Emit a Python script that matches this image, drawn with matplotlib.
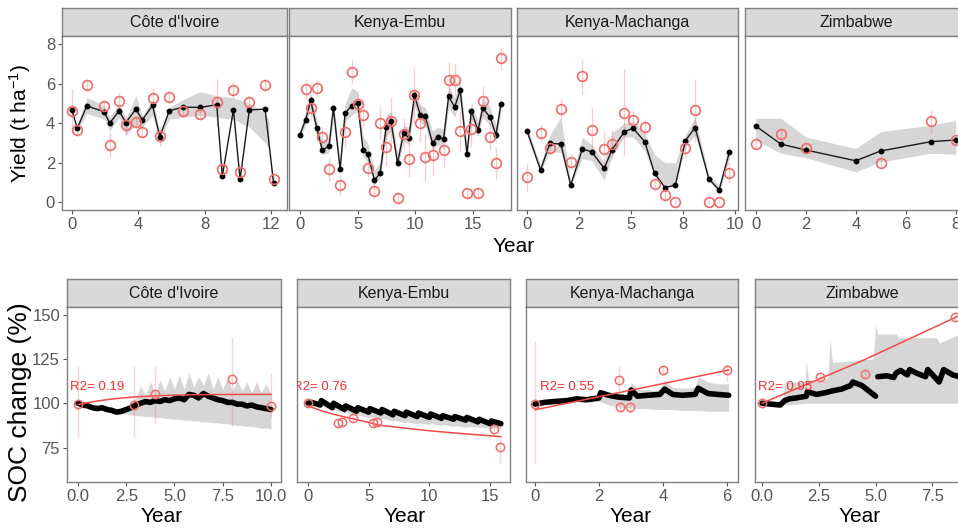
import numpy as np
import matplotlib
matplotlib.use('Agg')
import matplotlib.pyplot as plt

plt.rcParams['font.family'] = ['Liberation Sans', 'DejaVu Sans']
plt.rcParams['mathtext.default'] = 'regular'

W, H = 958, 529

# ---------------- 产量数据 (上排) ----------------
sites = ["Côte d'Ivoire", "Kenya-Embu", "Kenya-Machanga", "Zimbabwe"]

civ_x = [0, 0.32, 0.9, 1.94, 2.28, 2.84, 3.25, 3.85, 4.25, 4.86, 5.3, 5.87, 6.71, 7.72, 8.73, 9.07, 9.74, 10.14, 10.7, 11.65, 12.16]
civ_sim = [4.68, 3.74, 4.88, 4.58, 4.0, 4.63, 4.03, 4.71, 4.17, 4.9, 3.32, 4.63, 4.82, 4.8, 4.94, 1.31, 4.68, 1.16, 4.68, 4.71, 0.95]
civ_obs = [4.63, 3.63, 5.92, 4.88, 2.89, 5.14, 3.91, 4.05, 3.57, 5.28, 3.35, 5.33, 4.63, 4.46, 5.07, 1.65, 5.7, 1.5, 5.1, 5.92, 1.16]
civ_sd = [1.1, 0.3, 0.3, 0.3, 0.6, 0.4, 0.5, 0.3, 0.3, 0.5, 0.5, 0.3, 0.3, 0.3, 1.2, 0.3, 0.4, 0.3, 0.3, 0.3, 0.2]
civ_rib_x = [0.32, 0.9, 1.94, 2.28, 2.84, 3.25, 3.85, 4.25, 4.86, 5.3, 5.87, 6.71, 7.72, 8.73, 9.74, 10.7, 11.65, 11.9]
civ_rib_lo = [3.6, 4.5, 4.2, 3.6, 4.3, 3.4, 3.9, 3.8, 4.4, 3.1, 4.2, 4.3, 4.4, 4.3, 4.2, 3.8, 3.0, 2.7]
civ_rib_hi = [3.9, 5.3, 4.9, 4.3, 5.0, 4.2, 5.4, 4.4, 5.2, 3.5, 4.8, 5.2, 5.6, 5.4, 5.3, 5.0, 4.5, 4.1]

emb_x = [0, 0.49, 0.93, 1.45, 1.94, 2.52, 2.9, 3.48, 3.91, 4.49, 5.01, 5.47, 5.88, 6.46, 6.95, 7.47, 7.9, 8.46,
         8.98, 9.44, 9.93, 10.43, 10.86, 11.5, 11.93, 12.45, 12.89, 13.41, 13.9, 14.48, 14.86, 15.44, 15.84, 16.5, 17.0, 17.43]
emb_sim = [3.42, 4.17, 5.16, 3.76, 2.62, 2.84, 4.77, 1.65, 4.51, 4.89, 5.02, 2.64, 2.43, 1.11, 1.45, 3.8, 4.09, 1.96,
           3.49, 3.27, 5.41, 4.43, 4.37, 2.98, 3.32, 3.2, 5.36, 4.82, 5.67, 2.43, 4.63, 3.63, 4.77, 4.29, 3.4, 4.99]
emb_rib_lo = [3.2, 3.9, 4.7, 3.4, 2.4, 2.5, 4.3, 1.5, 4.1, 4.4, 4.6, 2.3, 2.0, 0.9, 1.2, 3.3, 3.6, 1.7,
              3.1, 2.9, 4.9, 4.0, 3.9, 2.6, 2.9, 2.8, 4.8, 4.3, 5.1, 2.1, 4.2, 3.3, 4.3, 3.9, 3.0, 4.6]
emb_rib_hi = [3.7, 4.5, 5.6, 4.2, 3.0, 3.3, 5.2, 2.0, 5.0, 5.8, 5.6, 3.3, 3.0, 1.6, 2.0, 4.4, 4.6, 2.5,
              3.9, 3.8, 5.8, 4.9, 4.8, 3.6, 3.8, 3.7, 5.9, 5.3, 6.2, 2.8, 5.1, 4.1, 5.3, 4.8, 3.9, 5.4]
emb_obs_x = [0.49, 0.93, 1.45, 1.94, 2.52, 3.48, 3.91, 4.49, 5.01, 5.47, 5.88, 6.46, 6.95, 7.47, 7.9, 8.46, 8.98,
             9.44, 9.93, 10.43, 10.86, 11.5, 12.45, 12.89, 13.41, 13.9, 14.48, 14.86, 15.44, 15.84, 16.5, 17.0, 17.43]
emb_obs = [5.74, 4.77, 5.79, 3.32, 1.65, 0.85, 3.57, 6.59, 4.99, 4.43, 1.74, 0.56, 4.0, 2.81, 4.09, 0.22, 3.44,
           2.18, 5.41, 4.03, 2.26, 2.38, 2.64, 6.21, 6.21, 3.61, 0.43, 3.69, 0.43, 5.11, 3.32, 1.96, 7.29]
emb_sd = [0.5, 0.6, 0.4, 0.5, 0.6, 0.5, 0.8, 0.6, 0.5, 0.6, 0.5, 0.4, 0.8, 1.0, 1.2, 0.3, 0.8,
          0.9, 1.4, 1.0, 1.2, 1.0, 0.9, 0.9, 0.8, 1.0, 0.3, 0.9, 0.3, 0.8, 0.7, 0.8, 0.6]

mac_x = [0, 0.65, 1.1, 1.63, 2.1, 2.66, 3.11, 3.71, 4.08, 4.68, 5.1, 5.66, 6.13, 6.63, 7.13, 7.61, 8.08, 8.73, 9.23, 9.73]
mac_sim = [3.61, 1.62, 2.98, 2.94, 0.85, 2.69, 2.55, 1.70, 2.64, 3.57, 3.74, 3.06, 1.45, 0.73, 0.85, 3.11, 3.78, 1.19, 0.60, 2.55]
mac_obs = [1.28, 3.49, 2.76, 4.73, 2.04, 6.38, 3.63, 2.69, 2.93, 4.54, 4.14, 3.80, 0.90, 0.34, 0.0, 2.72, 4.65, 0.0, 0.0, 1.48]
mac_sd = [0.7, 0.4, 0.4, 0.5, 0.4, 0.9, 1.2, 0.9, 0.7, 2.2, 0.5, 0.4, 0.3, 0.3, 0.1, 0.5, 1.6, 0.1, 0.1, 0.5]
mac_rib_lo = [3.4, 1.5, 2.6, 2.5, 0.8, 2.2, 2.1, 1.1, 2.3, 3.3, 3.3, 2.6, 1.3, 0.8, 0.8, 2.8, 3.4, 1.1, 0.5, 2.2]
mac_rib_hi = [3.8, 1.9, 3.4, 4.3, 1.0, 3.3, 2.9, 2.0, 3.5, 4.0, 4.1, 3.5, 2.4, 2.0, 2.0, 3.4, 4.3, 1.4, 0.8, 2.9]

zim_x = [0, 1, 2, 4, 5, 7, 8]
zim_sim = [3.86, 2.94, 2.64, 2.09, 2.59, 3.06, 3.15]
zim_rib_lo = [3.15, 2.47, 2.25, 1.53, 2.04, 2.47, 2.43]
zim_rib_hi = [4.25, 4.25, 3.3, 2.72, 3.57, 3.9, 4.14]
zim_obs_x = [0, 1, 2, 5, 7, 8]
zim_obs = [2.93, 3.44, 2.72, 1.99, 4.09, 3.15]
zim_sd = [0.2, 0.2, 0.2, 0.2, 0.6, 0.2]

# ---------------- SOC 数据 (下排) ----------------
civ_soc_x = [0, 0.25, 0.5, 0.75, 1.0, 1.25, 1.5, 1.75, 2.0, 2.25, 2.5, 2.75, 3.0, 3.25, 3.5, 3.75, 4.0, 4.25, 4.5, 4.75, 5.0,
             5.25, 5.5, 5.75, 6.0, 6.25, 6.5, 6.75, 7.0, 7.25, 7.5, 7.75, 8.0, 8.25, 8.5, 8.75, 9.0, 9.25, 9.5, 9.75, 10.0]
civ_soc = [100, 99, 98.5, 97.5, 97, 97.5, 96.5, 96, 95, 95.5, 96.5, 97.5, 99, 100, 101, 100.5, 101.5, 101, 102, 101.5, 102.5,
           103, 102, 105, 104.5, 103, 105.5, 104, 103, 102, 101.5, 100.5, 100.5, 99.5, 99.5, 98.5, 99, 98, 97.5, 97, 96.5]
civ_soc_lo = [99.5, 98, 97.5, 96.5, 96, 96, 95, 94.5, 94, 94, 94, 93.5, 93, 93, 92.5, 92.5, 92, 92, 91.5, 91.5, 91,
              91, 90.5, 90.5, 90, 90, 89.5, 89.5, 89, 89, 88.5, 88.5, 88, 87.5, 87.5, 87, 87, 86.5, 86, 86, 85.5]
civ_soc_hi = [100.5, 100, 99.5, 98.5, 98, 98.5, 97.5, 97, 96, 97, 98, 100, 103, 110, 104, 112, 106, 113, 107, 115, 108,
              116, 108, 117, 109, 115, 110, 117, 108, 115, 108, 114, 107, 113, 107, 112, 106, 112, 106, 111, 105]
civ_soc_obs_x = [0, 2.9, 4.0, 8.0, 10.0]
civ_soc_obs = [99.5, 99, 105, 113.5, 98.5]
civ_soc_elo = [81, 81, 89, 87, 92]
civ_soc_ehi = [121, 121, 121, 137, 117]
civ_fit_x = [0, 1, 2, 3, 4, 5, 6, 7, 8, 9, 10]
civ_fit = [99.3, 101.3, 102.7, 103.6, 104.2, 104.6, 104.8, 104.9, 105.0, 105.0, 105.0]

emb_soc_x = [0, 0.3, 1.0, 1.1, 2.0, 2.1, 3.0, 3.1, 4.0, 4.1, 5.0, 5.1, 6.0, 6.1, 7.0, 7.1, 8.0, 8.1,
             9.0, 9.1, 10.0, 10.1, 11.0, 11.1, 12.0, 12.1, 13.0, 13.1, 14.0, 14.1, 15.0, 15.1, 15.9]
emb_soc = [100, 100.5, 99, 101.5, 97.5, 100, 96.5, 98.5, 95.5, 97.5, 95, 97, 94.5, 96.5, 93.5, 95.5, 93, 95,
           92.5, 94.5, 92, 94, 91.5, 93, 91, 92.5, 90.5, 92, 89.5, 91, 88.5, 90, 88.5]
emb_soc_lo = [99.5, 99.5, 98, 98.5, 96, 96.5, 94.5, 95, 93, 93.5, 92, 92.5, 91, 91.5, 90, 90.5, 89, 89.5,
              88.5, 89, 88, 88.5, 87.5, 88, 87, 87.5, 86.5, 87, 86.5, 86.5, 86, 86, 86]
emb_soc_hi = [100.5, 101, 99.5, 102, 98, 100.5, 97, 99, 96, 98, 95.5, 97.5, 95, 97, 94, 96, 93.5, 95.5,
              93, 95, 92.5, 94.5, 92, 93.5, 91.5, 93, 91, 92.5, 90, 91.5, 89, 90.5, 89]
emb_soc_obs_x = [0, 2.48, 2.83, 3.7, 5.37, 5.7, 15.3, 15.8]
emb_soc_obs = [100, 89.1, 89.6, 91.5, 89.1, 89.6, 85.3, 75.5]
emb_soc_elo = [99, 87, 87.5, 89.5, 87, 87.5, 82, 66]
emb_soc_ehi = [101, 91, 91.5, 93.5, 91, 91.5, 88, 80]
emb_fit_x = [0, 1, 2, 3, 4, 6, 8, 10, 12, 14, 15.9]
emb_fit = [98.5, 96, 94, 92.3, 90.8, 87.5, 86, 84.5, 83.3, 82.2, 81.2]

mac_soc_x = [0, 0.3, 0.6, 1.0, 1.3, 1.6, 2.0, 2.05, 2.3, 2.6, 2.95, 3.0, 3.2, 3.5, 3.9, 4.05, 4.3, 4.6, 5.0, 5.1, 5.4, 5.7, 6.05]
mac_soc = [99.5, 100.5, 101, 101.5, 102.5, 102, 103, 106, 104.5, 103.5, 103, 107.5, 104, 104.5, 105, 108, 105, 104.5, 105, 108.5, 105.5, 105, 104.5]
mac_soc_lo = [99, 99.5, 100, 100.5, 101, 100.5, 101, 101, 99, 98, 97.5, 97.5, 97, 97, 96.5, 96.5, 96.5, 96, 96, 96, 95.5, 95.5, 95.5]
mac_soc_hi = [100, 101, 101.5, 102, 103, 103, 104, 107, 106, 105.5, 105, 112, 108, 107.5, 107.5, 113, 109, 108.5, 109, 115, 112, 111, 111]
mac_soc_obs_x = [0, 2.63, 2.66, 2.97, 3.99, 6.0]
mac_soc_obs = [99.4, 113.2, 98.1, 98.1, 118.8, 118.8]
mac_soc_elo = [66, 106, 95, 95, 116, 112]
mac_soc_ehi = [135, 121, 101, 101, 121, 122]
mac_fit_x = [0, 2, 4, 6.05]
mac_fit = [96.3, 103.7, 111.1, 118.8]

zim_soc_x = [0, 0.4, 0.8, 1.0, 1.2, 1.5, 1.95, 2.0, 2.4, 2.8, 3.1, 3.5, 3.9, 4.0, 4.4, 5.0, np.nan,
             5.1, 5.5, 5.8, 5.9, 6.1, 6.4, 6.5, 6.8, 7.2, 7.3, 7.8, 8.0, 8.4, 8.7]
zim_soc = [100, 99.5, 99, 101.5, 102.5, 103, 104, 106.5, 105, 106, 107, 108, 110, 112, 110, 104, np.nan,
           115, 115.5, 114.5, 117, 118.5, 116, 119, 117, 115, 119, 112, 119, 116, 115]
zim_rib_x2 = [0.9, 1.0, 1.9, 1.95, 2.05, 2.9, 3.0, 3.1, 4.9, 5.0, 5.1, 5.9, 6.0, 7.7, 7.8, 8.7]
zim_soc_lo = [99, 99, 100, 100, 100, 100, 100, 100, 100, 100, 100, 100, 100, 100, 100, 100]
zim_soc_hi = [101, 112, 112, 124, 113, 114, 136, 123, 125, 144, 139, 139, 137, 137, 134, 139]
zim_soc_obs_x = [0, 2.54, 4.55, 8.49]
zim_soc_obs = [100, 114.7, 116.4, 148.4]
zim_soc_elo = [99, 113, 114, 146]
zim_soc_ehi = [101, 116.5, 119, 151]
zim_fit_x = [0, 4.5, 8.7]
zim_fit = [100, 124.5, 149.5]

r2_labels = ['R2= 0.19', 'R2= 0.76', 'R2= 0.55', 'R2= 0.95']

RED = '#F26B6B'
RED_LINE = '#F24A4A'
RIB = '#D6D6D6'
BORDER = '#808080'


def px(x0, y0, x1, y1):
    return [x0 / W, 1 - y1 / H, (x1 - x0) / W, (y1 - y0) / H]


def panel(x0, x1, top, strip_bot, bot, title):
    s = fig.add_axes(px(x0, top, x1, strip_bot))
    s.set_facecolor('#D9D9D9')
    s.set_xticks([])
    s.set_yticks([])
    for sp in s.spines.values():
        sp.set_color(BORDER)
        sp.set_linewidth(1.0)
    s.text(0.5, 0.47, title, ha='center', va='center', fontsize=11.5, color='#1A1A1A', transform=s.transAxes)
    ax = fig.add_axes(px(x0, strip_bot, x1, bot))
    for sp in ax.spines.values():
        sp.set_color(BORDER)
        sp.set_linewidth(1.0)
    ax.tick_params(length=3, width=0.8, color='#555555', labelcolor='#555555', labelsize=12, pad=2)
    return ax


fig = plt.figure(figsize=(W / 100, H / 100), dpi=100)

# 上排: 产量
top_cols = [(62, 287), (289, 511), (517, 738), (745, 968)]
top_xlim = [(-0.6, 12.97), (-0.95, 18.3), (-0.48, 10.14), (-0.43, 8.49)]
top_data = [
    (civ_x, civ_sim, civ_rib_x, civ_rib_lo, civ_rib_hi, civ_x, civ_obs, civ_sd),
    (emb_x, emb_sim, emb_x, emb_rib_lo, emb_rib_hi, emb_obs_x, emb_obs, emb_sd),
    (mac_x, mac_sim, mac_x, mac_rib_lo, mac_rib_hi, mac_x, mac_obs, mac_sd),
    (zim_x, zim_sim, zim_x, zim_rib_lo, zim_rib_hi, zim_obs_x, zim_obs, zim_sd),
]
top_ticks = [([0, 4, 8, 12], ['0', '4', '8', '12']),
             ([0, 5, 10, 15], ['0', '5', '10', '15']),
             ([0, 2.5, 5, 7.5, 10], ['0', '2', '5', '8', '10']),
             ([0, 2, 4, 6, 8], ['0', '2', '4', '6', '8'])]

for i in range(4):
    ax = panel(top_cols[i][0], top_cols[i][1], 8, 36, 210, sites[i])
    sx, sy, rx, rlo, rhi, ox, oy, osd = top_data[i]
    ax.fill_between(rx, rlo, rhi, color=RIB, lw=0, zorder=1)
    ax.errorbar(ox, oy, yerr=osd, fmt='none', ecolor=RED, alpha=0.35, elinewidth=1, zorder=2)
    ax.plot(sx, sy, color='#1A1A1A', lw=1.0, zorder=3)
    ax.plot(sx, sy, 'o', color='black', ms=3.2, zorder=4)
    ax.plot(ox, oy, 'o', mfc='none', mec=RED, mew=1.2, ms=7, zorder=5)
    ax.set_xlim(*top_xlim[i])
    ax.set_ylim(-0.41, 8.43)
    ax.set_xticks(top_ticks[i][0])
    ax.set_xticklabels(top_ticks[i][1])
    ax.set_yticks([0, 2, 4, 6, 8])
    if i > 0:
        ax.tick_params(left=False, labelleft=False)

fig.text(20 / W, 1 - 123 / H, 'Yield (t ha$^{-1}$)', rotation=90, ha='center', va='center', fontsize=15)
fig.text(514 / W, 1 - 246 / H, 'Year', ha='center', va='center', fontsize=15)

# 下排: SOC变化
bot_cols = [(67, 281), (297, 510), (526, 738), (755, 970)]
bot_xlim = [(-0.57, 10.52), (-0.91, 16.65), (-0.28, 6.34), (-0.31, 9.16)]
bot_data = [
    (civ_soc_x, civ_soc, civ_soc_x, civ_soc_lo, civ_soc_hi, civ_soc_obs_x, civ_soc_obs, civ_soc_elo, civ_soc_ehi, civ_fit_x, civ_fit),
    (emb_soc_x, emb_soc, emb_soc_x, emb_soc_lo, emb_soc_hi, emb_soc_obs_x, emb_soc_obs, emb_soc_elo, emb_soc_ehi, emb_fit_x, emb_fit),
    (mac_soc_x, mac_soc, mac_soc_x, mac_soc_lo, mac_soc_hi, mac_soc_obs_x, mac_soc_obs, mac_soc_elo, mac_soc_ehi, mac_fit_x, mac_fit),
    (zim_soc_x, zim_soc, zim_rib_x2, zim_soc_lo, zim_soc_hi, zim_soc_obs_x, zim_soc_obs, zim_soc_elo, zim_soc_ehi, zim_fit_x, zim_fit),
]
bot_ticks = [([0, 2.5, 5, 7.5, 10], ['0.0', '2.5', '5.0', '7.5', '10.0']),
             ([0, 5, 10, 15], ['0', '5', '10', '15']),
             ([0, 2, 4, 6], ['0', '2', '4', '6']),
             ([0, 2.5, 5, 7.5], ['0.0', '2.5', '5.0', '7.5'])]
year_x = [162, 405, 631, 860]

for i in range(4):
    ax = panel(bot_cols[i][0], bot_cols[i][1], 279, 307, 482, sites[i])
    sx, sy, rx, rlo, rhi, ox, oy, elo, ehi, fx, fy = bot_data[i]
    ax.fill_between(rx, rlo, rhi, color=RIB, lw=0, zorder=1)
    oy_a = np.array(oy)
    yerr = [oy_a - np.array(elo), np.array(ehi) - oy_a]
    ax.errorbar(ox, oy, yerr=yerr, fmt='none', ecolor=RED, alpha=0.3, elinewidth=1, zorder=2)
    ax.plot(sx, sy, color='black', lw=4, solid_capstyle='round', solid_joinstyle='round', zorder=3)
    ax.plot(fx, fy, color=RED_LINE, lw=1.1, zorder=4)
    ax.plot(ox, oy, 'o', mfc='none', mec=RED, mew=1.1, ms=6, zorder=5)
    ax.text(1.0, 109.3, r2_labels[i], color='#F03030', fontsize=9.5, ha='center', va='center',
            clip_on=True, zorder=6)
    ax.set_xlim(*bot_xlim[i])
    ax.set_ylim(55.6, 154.3)
    ax.set_xticks(bot_ticks[i][0])
    ax.set_xticklabels(bot_ticks[i][1])
    ax.set_yticks([75, 100, 125, 150])
    if i > 0:
        ax.tick_params(left=False, labelleft=False)
    fig.text(year_x[i] / W, 1 - 516 / H, 'Year', ha='center', va='center', fontsize=15)

fig.text(20 / W, 1 - 402 / H, 'SOC change (%)', rotation=90, ha='center', va='center', fontsize=19)

fig.savefig('out.png', dpi=100)
